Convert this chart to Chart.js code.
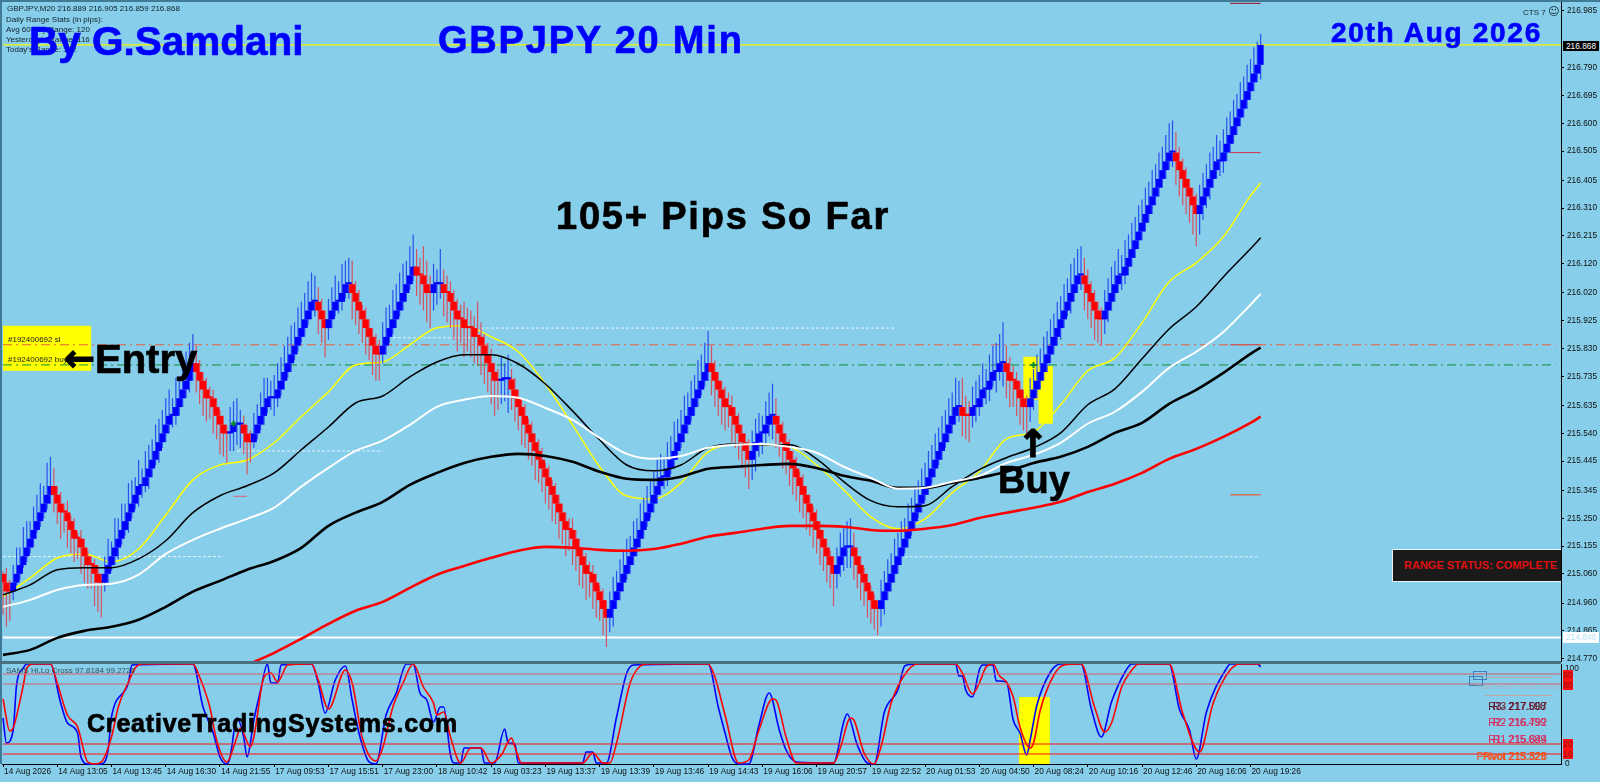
<!DOCTYPE html>
<html>
<head>
<meta charset="utf-8">
<title>GBPJPY 20 Min</title>
<script src="https://cdn.jsdelivr.net/npm/chart.js@4"></script>
<style>
  html, body { margin: 0; padding: 0; background: #87ceeb; overflow: hidden; }
  #stage { position: relative; width: 1600px; height: 782px; background: #87ceeb; overflow: hidden; }
  canvas { position: absolute; left: 0; }
  #priceChart { top: 0; }
  #stochChart { top: 664px; }
  .t { position: absolute; white-space: nowrap; line-height: 1; font-family: "Liberation Sans", Arial, sans-serif; }
  .big { font-weight: bold; -webkit-text-stroke: 0.7px currentColor; }
  .blue { color: #0000ff; }
  .small { font-size: 8px; color: #10202a; }
  .pivot { font-size: 10.5px; }
  .tag { position: absolute; left: 1563px; width: 10px; height: 10px; background: #ff1010; color: #8a0f10; font: 8.5px "Liberation Sans", sans-serif; line-height: 10px; text-align: center; }
  .edge { position: absolute; background: #3f7a96; }
</style>
</head>
<body>
<div id="stage">
  <canvas id="priceChart" width="1600" height="664"></canvas>
  <canvas id="stochChart" width="1600" height="118"></canvas>

  <div class="edge" style="left:0;top:0;width:1600px;height:2px"></div>
  <div class="edge" style="left:0;top:0;width:2px;height:764px"></div>
  <div class="edge" style="left:0;top:661px;width:1561px;height:3px;background:#4b6f82"></div>

  <div class="t small" style="left:7px;top:5px">GBPJPY,M20 216.889 216.905 216.859 216.868</div>
  <div class="t small" style="left:6px;top:16px">Daily Range Stats (in pips):</div>
  <div class="t small" style="left:6px;top:26px">Avg 60-day Range: 120</div>
  <div class="t small" style="left:6px;top:36px">Yesterday's Range: 116</div>
  <div class="t small" style="left:6px;top:46px">Today's Range: 172</div>

  <div class="t big blue" style="left:29px;top:21px;font-size:40.5px">By G.Samdani</div>
  <div class="t big blue" style="left:438px;top:21px;font-size:38px;letter-spacing:1.8px">GBPJPY 20 Min</div>
  <div class="t big blue" style="left:1331px;top:19px;font-size:28px;letter-spacing:1.7px">20th Aug 2026</div>
  <div class="t big" style="left:556px;top:197px;font-size:38px;letter-spacing:1.8px;color:#000">105+ Pips So Far</div>

  <div class="t small" style="left:8px;top:336px;color:#222">#192400692 sl</div>
  <div class="t small" style="left:8px;top:356px;color:#222">#192400692 buy</div>
  <div class="t big" style="left:64px;top:340px;font-family:'DejaVu Sans';font-size:37px;color:#000;-webkit-text-stroke:1.2px #000">←</div>
  <div class="t big" style="left:95px;top:339px;font-size:40px;color:#000">Entry</div>
  <div class="t big" style="left:1017px;top:425px;font-family:'DejaVu Sans';font-size:38px;color:#000;-webkit-text-stroke:1.2px #000">↑</div>
  <div class="t big" style="left:998px;top:461px;font-size:38px;color:#000">Buy</div>
  <div class="t big" style="left:87px;top:711px;font-size:25px;letter-spacing:0.8px;color:#000">CreativeTradingSystems.com</div>
  <div class="t small" style="left:6px;top:667px;color:#33505f">SAMS Hi,Lo Cross 97.8184 99.2726</div>

  <div class="t small" style="left:1523px;top:6px">CTS 7 <span style="font-size:11px;font-family:'DejaVu Sans'">☺</span></div>
  <div class="t" style="left:1563px;top:41px;width:36px;height:10px;background:#000;color:#fff;font-size:8.3px;line-height:10px;text-align:center">216.868</div>
  <div class="t" style="left:1563px;top:632px;width:36px;height:11px;background:#fff;color:#b7e4f5;font-size:8.3px;line-height:11px;text-align:center">214.840</div>

  <div class="t" style="left:1392px;top:549px;width:168px;height:31px;background:#1a1a1a;border:1px solid #e8f4f8;border-right:none;color:#e01010;font-size:11px;font-weight:bold;line-height:31px;text-indent:11px">RANGE STATUS: COMPLETE</div>

  <div style="position:absolute;left:1473px;top:671px;width:12px;height:7px;border:1.5px solid #3f7fb5"></div>
  <div style="position:absolute;left:1469px;top:676px;width:12px;height:8px;border:1.5px solid #3f7fb5"></div>
  <div style="position:absolute;left:1485px;top:677px;width:67px;height:1px;background:#b9a7a0"></div>
  <div style="position:absolute;left:1485px;top:695px;width:67px;height:1px;background:#c2a79a"></div>
  <div class="t" style="left:1477px;top:683px;font-size:7.5px;color:#a8b4bc">Daily Pivot Points Levels</div>

  <div class="t pivot" style="right:53px;top:701px;color:#7a1020">R3 217.007</div>
  <div class="t pivot" style="right:54px;top:701px;color:#5a0f25">R3- 217.598</div>
  <div class="t pivot" style="right:53px;top:717px;color:#d92a5c">R2 216.792</div>
  <div class="t pivot" style="right:54px;top:717px;color:#d92a5c">R2- 216.499</div>
  <div class="t pivot" style="right:53px;top:734px;color:#d92a5c">R1 215.844</div>
  <div class="t pivot" style="right:54px;top:734px;color:#d92a5c">R1- 215.689</div>
  <div class="t pivot" style="right:53px;top:751px;color:#ff4a10">Pivot 215.528</div>
  <div class="t pivot" style="right:54px;top:751px;color:#ff4a10">PNvot 215.329</div>

  <div class="t" style="left:1565px;top:664px;font-size:8.3px;color:#111">100</div>
  <div class="tag" style="top:670px">90</div>
  <div class="tag" style="top:680px">80</div>
  <div class="tag" style="top:739px">20</div>
  <div class="tag" style="top:749px">10</div>
  <div class="t" style="left:1565px;top:759px;font-size:8.3px;color:#111">0</div>
</div>

<script>
// Bar data. Bars are numbered from the left edge.
const firstOpen = 215.06;

const closes = [
  215.03,215.00,215.00,
  215.03,215.06,215.09,215.12,215.15,215.18,215.21,215.24,215.27,215.30,215.33,215.36,
  215.33,215.30,215.27,215.27,215.24,215.21,215.18,215.18,215.15,215.12,215.09,215.09,215.06,215.03,215.03,
  215.06,215.09,215.12,215.15,215.18,215.21,215.24,215.27,215.30,215.33,215.36,215.36,215.39,215.42,215.45,215.48,215.51,215.54,215.57,215.60,215.60,215.63,215.66,215.69,215.72,215.75,215.78,
  215.75,215.72,215.69,215.66,215.66,215.63,215.60,215.57,215.54,215.54,
  215.545,215.57,215.57,215.57,
  215.54,215.51,
  215.51,215.54,215.57,215.60,215.63,215.66,215.66,215.66,215.69,215.72,215.75,215.78,215.81,215.84,215.87,215.90,215.93,215.96,215.99,215.99,
  215.96,215.93,215.90,
  215.93,215.96,215.99,215.99,216.02,216.05,216.05,
  216.02,215.99,215.96,215.93,215.90,215.87,215.84,215.81,215.81,
  215.84,215.87,215.90,215.93,215.96,215.99,216.02,216.05,216.08,216.11,
  216.08,216.08,216.05,216.02,216.02,
  216.05,216.05,216.05,
  216.02,216.02,215.99,215.96,215.93,215.93,215.90,215.90,215.90,215.87,215.87,215.84,215.81,215.78,215.75,215.72,215.72,
  215.725,215.725,215.725,
  215.69,215.66,215.63,215.60,215.57,215.54,215.51,215.48,215.45,215.42,215.39,215.36,215.33,215.30,215.27,215.24,215.21,215.21,215.18,215.15,215.12,215.09,215.06,
  215.06,215.03,215.00,214.97,214.94,214.91,
  214.94,214.97,215.00,215.03,215.06,215.09,215.12,215.15,215.18,215.21,215.24,215.27,215.30,215.33,215.36,215.39,215.39,215.42,215.45,215.48,215.51,215.54,215.57,215.60,215.63,215.66,215.69,215.72,215.75,215.78,
  215.75,215.72,215.69,215.66,215.63,215.63,215.60,215.57,215.54,215.51,215.48,215.45,
  215.48,215.51,215.54,215.54,215.57,215.60,215.60,
  215.57,215.54,215.51,215.48,215.45,215.42,215.39,215.36,215.33,215.30,215.27,215.24,215.21,215.18,215.15,215.12,215.09,215.06,
  215.09,215.12,215.15,215.15,215.15,
  215.12,215.09,215.06,215.03,215.00,214.97,214.94,214.94,
  214.97,215.00,215.03,215.06,215.09,215.12,215.15,215.18,215.21,215.24,215.27,215.30,215.33,215.36,215.39,215.42,215.45,215.48,215.51,215.54,215.57,215.60,215.63,215.63,
  215.60,215.60,215.60,
  215.63,215.63,215.66,215.69,215.69,215.72,215.75,215.75,215.78,215.78,
  215.75,215.72,215.72,215.69,215.66,215.63,215.63,
  215.66,215.69,215.72,215.75,215.78,215.81,215.84,215.87,215.90,215.93,215.96,215.99,216.02,216.05,216.08,216.08,
  216.05,216.02,215.99,215.96,215.93,215.93,
  215.96,215.99,216.02,216.05,216.08,216.08,216.11,216.14,216.17,216.20,216.23,216.26,216.29,216.32,216.35,216.38,216.41,216.44,216.47,216.50,216.50,
  216.47,216.44,216.41,216.38,216.35,216.32,216.29,
  216.32,216.35,216.38,216.41,216.44,216.47,216.47,216.50,216.53,216.56,216.59,216.62,216.65,216.68,216.71,216.74,216.77,216.80,216.868
];

const highs = [
  215.07,215.08,215.04,
  215.09,215.15,215.15,215.22,215.24,215.24,215.29,215.33,215.37,215.36,215.44,215.46,
  215.42,215.36,215.34,215.30,215.31,215.26,215.25,215.20,215.21,215.18,215.14,215.12,215.11,215.09,215.06,
  215.12,215.18,215.17,215.25,215.25,215.30,215.30,215.37,215.38,215.39,215.45,215.42,215.48,215.50,215.52,215.57,215.59,215.62,215.66,215.69,215.66,215.73,215.73,215.78,215.82,215.85,215.88,
  215.84,215.79,215.75,215.73,215.70,215.69,215.66,215.62,215.60,215.57,
  215.63,215.65,215.66,215.62,
  215.60,215.57,
  215.55,215.61,215.64,215.68,215.73,215.73,215.72,215.74,215.78,215.80,215.84,215.87,215.91,215.92,215.97,215.99,216.02,216.06,216.09,216.08,
  216.04,216.00,215.96,
  216.00,216.04,216.08,216.06,216.12,216.13,216.14,
  216.13,216.06,216.03,215.98,215.97,215.93,215.90,215.88,215.86,
  215.92,215.97,215.98,216.03,216.05,216.09,216.12,216.13,216.18,216.22,
  216.17,216.14,216.18,216.13,216.08,
  216.12,216.10,216.17,
  216.10,216.08,216.06,216.03,216.00,215.98,215.99,215.97,215.96,215.94,215.99,215.92,215.88,215.85,215.83,215.78,215.76,
  215.80,215.78,215.81,
  215.76,215.73,215.69,215.66,215.64,215.59,215.58,215.54,215.52,215.49,215.44,215.43,215.38,215.37,215.33,215.30,215.27,215.25,215.25,215.21,215.18,215.15,215.13,
  215.10,215.09,215.06,215.02,215.01,214.97,
  215.00,215.05,215.07,215.11,215.14,215.18,215.19,215.24,215.25,215.30,215.32,215.36,215.38,215.41,215.45,215.47,215.46,215.51,215.53,215.58,215.59,215.62,215.67,215.68,215.72,215.74,215.79,215.81,215.85,215.89,
  215.84,215.79,215.75,215.72,215.70,215.68,215.67,215.63,215.61,215.57,215.54,215.52,
  215.55,215.59,215.61,215.60,215.65,215.68,215.71,
  215.66,215.60,215.58,215.54,215.52,215.48,215.46,215.41,215.40,215.36,215.33,215.29,215.28,215.24,215.21,215.18,215.14,215.12,
  215.15,215.20,215.22,215.24,215.25,
  215.20,215.15,215.12,215.08,215.06,215.02,214.99,214.97,
  215.04,215.07,215.11,215.13,215.18,215.20,215.24,215.25,215.30,215.32,215.36,215.38,215.42,215.44,215.48,215.50,215.54,215.56,215.60,215.62,215.66,215.68,215.73,215.72,
  215.73,215.67,215.65,
  215.70,215.72,215.74,215.78,215.76,215.81,215.84,215.85,215.88,215.92,
  215.84,215.80,215.77,215.75,215.72,215.69,215.67,
  215.73,215.76,215.81,215.83,215.87,215.89,215.93,215.95,215.99,216.01,216.05,216.07,216.12,216.14,216.17,216.18,
  216.14,216.10,216.06,216.03,215.99,215.97,
  216.03,216.07,216.11,216.13,216.17,216.15,216.20,216.22,216.26,216.28,216.32,216.34,216.38,216.40,216.44,216.46,216.50,216.52,216.56,216.60,216.61,
  216.57,216.52,216.48,216.45,216.41,216.38,216.36,
  216.39,216.43,216.46,216.50,216.52,216.56,216.54,216.58,216.62,216.64,216.68,216.70,216.74,216.76,216.80,216.82,216.86,216.88,216.905
];

const lows = [
  214.92,214.88,214.90,
  214.97,215.02,215.04,215.08,215.10,215.13,215.15,215.20,215.22,215.25,215.28,215.30,
  215.27,215.23,215.18,215.20,215.15,215.13,215.10,215.11,215.06,215.03,215.01,215.01,214.95,214.93,214.91,
  215.00,215.02,215.07,215.09,215.11,215.16,215.19,215.20,215.25,215.28,215.29,215.32,215.34,215.35,215.39,215.43,215.44,215.49,215.51,215.54,215.56,215.57,215.60,215.63,215.66,215.68,215.72,
  215.68,215.64,215.60,215.58,215.59,215.54,215.52,215.47,215.46,215.44,
  215.48,215.48,215.50,215.49,
  215.47,215.40,
  215.44,215.49,215.52,215.55,215.57,215.61,215.62,215.60,215.63,215.67,215.69,215.73,215.75,215.79,215.82,215.85,215.87,215.91,215.93,215.94,
  215.88,215.85,215.80,
  215.86,215.90,215.94,215.95,215.96,216.00,216.00,
  215.93,215.91,215.88,215.85,215.81,215.79,215.74,215.72,215.72,
  215.78,215.81,215.85,215.88,215.90,215.94,215.96,215.99,216.03,216.06,
  216.01,215.98,215.96,215.92,215.90,
  215.96,215.98,216.00,
  215.94,215.92,215.90,215.86,215.82,215.85,215.80,215.82,215.80,215.78,215.77,215.74,215.71,215.68,215.64,215.60,215.62,
  215.64,215.65,215.61,
  215.62,215.58,215.55,215.50,215.49,215.45,215.43,215.38,215.37,215.34,215.30,215.28,215.24,215.23,215.18,215.16,215.12,215.14,215.09,215.07,215.02,215.01,214.97,
  214.98,214.94,214.91,214.90,214.85,214.81,
  214.86,214.88,214.94,214.97,215.00,215.04,215.06,215.09,215.12,215.15,215.18,215.22,215.25,215.27,215.30,215.33,215.35,215.36,215.40,215.42,215.45,215.49,215.51,215.54,215.58,215.60,215.63,215.67,215.70,215.72,
  215.67,215.63,215.60,215.57,215.55,215.56,215.51,215.49,215.45,215.42,215.39,215.35,
  215.38,215.41,215.46,215.47,215.50,215.53,215.52,
  215.49,215.46,215.42,215.40,215.36,215.33,215.31,215.27,215.25,215.21,215.19,215.15,215.13,215.09,215.07,215.03,215.01,214.95,
  215.01,215.05,215.07,215.08,215.08,
  215.04,215.01,214.97,214.95,214.91,214.89,214.87,214.85,
  214.88,214.92,214.97,215.00,215.03,215.06,215.09,215.13,215.15,215.19,215.21,215.25,215.27,215.31,215.33,215.37,215.39,215.43,215.45,215.49,215.51,215.54,215.57,215.58,
  215.53,215.52,215.51,
  215.56,215.58,215.60,215.63,215.64,215.65,215.70,215.68,215.72,215.70,
  215.66,215.63,215.63,215.60,215.57,215.55,215.54,
  215.58,215.62,215.66,215.69,215.72,215.75,215.78,215.81,215.84,215.86,215.90,215.94,215.95,215.99,216.02,216.03,
  215.96,215.93,215.90,215.86,215.85,215.84,
  215.88,215.92,215.96,215.99,216.02,216.03,216.05,216.08,216.11,216.14,216.17,216.20,216.23,216.26,216.29,216.32,216.35,216.38,216.41,216.44,216.45,
  216.39,216.35,216.32,216.29,216.26,216.22,216.18,
  216.22,216.27,216.31,216.34,216.38,216.41,216.42,216.43,216.47,216.50,216.53,216.56,216.59,216.62,216.65,216.68,216.71,216.74,216.75
];

// Moving averages, read every 8 bars
const avgBars = [0,8,16,24,32,40,48,56,64,72,80,88,96,104,112,120,128,136,144,152,160,168,176,184,192,200,208,216,224,232,240,248,256,264,272,280,288,296,304,312,320,328,336,344,352,360,368,371];

const yellowAvg = [214.981,215.046,215.114,215.128,215.101,215.145,215.261,215.381,215.432,215.449,215.508,215.597,215.682,215.774,215.784,215.843,215.901,215.908,215.870,215.819,215.709,215.569,215.426,215.326,215.316,215.371,215.477,215.501,215.501,215.494,215.432,215.347,215.255,215.214,215.248,215.337,215.409,215.521,215.545,215.638,215.754,215.798,215.918,216.058,216.123,216.212,216.352,216.396];

const blackAvg = [214.988,215.022,215.074,215.081,215.081,215.111,215.173,215.269,215.327,215.361,215.405,215.484,215.562,215.644,215.668,215.733,215.784,215.809,215.809,215.778,215.709,215.617,215.518,215.432,215.412,215.432,215.491,215.504,215.501,215.501,215.453,215.375,215.310,215.289,215.293,215.358,215.416,215.457,215.491,215.542,215.638,215.692,215.795,215.897,215.973,216.075,216.171,216.209];

const whiteAvg = [214.947,214.971,215.005,215.022,215.026,215.057,215.128,215.176,215.214,215.248,215.286,215.358,215.422,215.480,215.515,215.569,215.631,215.655,215.668,215.662,215.627,215.586,215.525,215.470,215.453,215.463,215.491,215.501,215.504,215.494,215.474,215.426,215.388,215.351,215.354,215.375,215.395,215.439,215.467,215.508,215.573,215.614,215.682,215.764,215.819,215.887,215.980,216.017];

const thickBlackAvg = [214.783,214.800,214.841,214.865,214.879,214.903,214.947,214.999,215.036,215.074,215.104,215.149,215.224,215.269,215.306,215.364,215.405,215.439,215.460,215.470,215.463,215.443,215.409,215.385,215.381,215.392,215.419,215.426,215.432,215.436,215.422,215.395,215.378,215.354,215.354,215.371,215.388,215.409,215.439,215.460,215.494,215.542,215.576,215.641,215.689,215.747,215.812,215.833];

const redAvg = [null,null,null,null,null,null,null,null,null,214.749,214.790,214.838,214.889,214.934,214.964,215.012,215.057,215.087,215.115,215.139,215.152,215.149,215.142,215.139,215.145,215.163,215.187,215.200,215.214,215.224,215.224,215.221,215.210,215.207,215.214,215.227,215.251,215.269,215.286,215.306,215.340,215.368,215.405,215.453,215.487,215.528,215.576,215.597];

// Stochastic panel, read at its turning points
const stochBars = [0,1,3,4,6,7,14,17,19,22,23,25,29,31,32,37,38,56,59,62,64,66,67,69,71,72,74,76,78,79,81,82,91,93,95,98,101,103,105,108,110,113,116,119,121,123,125,127,129,130,132,133,135,136,141,142,145,148,149,151,152,171,172,174,175,178,181,184,186,208,211,213,215,217,220,223,226,229,231,234,245,248,249,252,255,257,260,264,266,269,281,282,283,284,286,288,289,292,293,294,296,298,300,302,303,305,309,312,318,321,324,327,331,333,344,347,350,352,355,361,362,370,371];
const stochMain = [46,21,34,79,96,100,100,61,41,31,7,0,0,14,47,81,99,100,57,31,7,0,7,46,27,7,44,74,100,81,81,99,100,81,51,84,98,64,31,2,0,49,71,100,100,71,64,42,57,57,9,1,1,16,16,1,1,35,21,20,1,1,12,12,1,1,47,91,99,100,57,31,7,0,0,39,71,34,14,2,1,42,50,19,1,0,52,74,98,100,100,88,88,74,67,94,99,99,83,83,82,44,31,9,24,59,92,100,100,56,27,62,92,100,100,55,34,5,52,96,100,100,97];

const signalBars = [0,2,3,6,7,9,14,16,19,22,25,27,29,32,34,37,39,41,56,58,61,63,66,67,69,70,73,74,77,79,81,84,91,93,96,101,103,106,110,112,115,118,121,124,127,128,130,132,135,138,141,144,147,150,151,153,171,174,177,179,181,185,188,190,208,210,213,217,220,223,227,228,231,234,245,247,250,251,254,257,259,262,267,270,281,283,286,288,290,292,294,296,298,300,303,304,306,310,313,318,322,325,327,330,333,335,344,348,353,357,362,365,371];
const stochSignal = [65,33,36,79,96,100,100,81,49,37,2,0,2,27,57,82,96,100,100,87,57,24,2,7,27,36,17,27,87,91,82,99,100,84,55,94,81,26,3,16,57,81,100,77,61,49,52,27,1,16,16,1,9,26,17,1,1,11,1,1,21,81,98,100,100,87,49,1,4,34,65,64,27,1,1,16,46,44,11,0,17,61,94,100,100,91,70,81,97,100,88,82,67,37,16,21,54,89,99,100,57,32,41,77,94,100,100,51,12,61,94,100,100];

const stochLevels = [90, 80, 20, 10];

// Axis labels
const priceTicks = [216.985,216.790,216.695,216.600,216.505,216.405,216.310,216.215,216.120,216.020,215.925,215.830,215.735,215.635,215.540,215.445,215.345,215.250,215.155,215.060,214.960,214.865,214.770];
const timeTickBars = [0,16,32,48,64,80,96,112,128,144,160,176,192,208,224,240,256,272,288,304,320,336,352,368];
const timeLabels = ['14 Aug 2026','14 Aug 13:05','14 Aug 13:45','14 Aug 16:30','14 Aug 21:55','17 Aug 09:53','17 Aug 15:51','17 Aug 23:00','18 Aug 10:42','19 Aug 03:23','19 Aug 13:37','19 Aug 13:39','19 Aug 13:46','19 Aug 14:43','19 Aug 16:06','19 Aug 20:57','19 Aug 22:52','20 Aug 01:53','20 Aug 04:50','20 Aug 08:24','20 Aug 10:16','20 Aug 12:46','20 Aug 16:06','20 Aug 19:26'];

// Chart objects: horizontal levels, entry marks, highlight boxes
const currentPrice = 216.868;
const whiteLevel = 214.842;
const stopLevel = 215.843;
const buyLevel = 215.774;
const entryBars = [68, 304];
const entryPrices = [215.573, 215.774];

// [from bar, to bar, price]
const dottedLevels = [[0, 65, 215.119], [69, 112, 215.480], [115, 138, 215.867], [141, 263, 215.900], [266, 370, 215.118]];
const pivotDashes = [[362, 371, 217.010, '#a01020'], [362, 371, 216.500, '#d9304a'], [362, 371, 215.843, '#c83040'], [362, 371, 215.330, '#ff4010'], [68, 72, 215.325, '#d9607a']];

// [from bar, to bar, price or value top, bottom]
const priceBoxes = [[0, 26, 215.908, 215.754], [301, 305.5, 215.802, 215.655], [305.5, 309.7, 215.770, 215.573]];
const stochBoxes = [[299.7, 308.8, 67, 0]];

// x position of bar i is left edge + 3.39px per bar, same in both panels
const xMin = -0.3, xMax = 459.6;

let opens = closes.map((c, i) => (i === 0 ? firstOpen : closes[i - 1]));
let upFlags = [];
closes.forEach((c, i) => {
    if (c > opens[i]) upFlags.push(true);
    else if (c < opens[i]) upFlags.push(false);
    else upFlags.push(i > 0 ? upFlags[i - 1] : false);
});

function pairPoints(bars, values) {
    return bars.map((b, i) => ({ x: b, y: values[i] }));
}

function avgLine(values, color, width) {
    return { type: 'line', data: pairPoints(avgBars, values), borderColor: color, borderWidth: width, pointRadius: 0, cubicInterpolationMode: 'monotone' };
}

function levelLine(fromBar, toBar, value, color, width, dash) {
    return {
        type: 'line',
        data: [{ x: fromBar, y: value }, { x: toBar, y: value }],
        borderColor: color,
        borderWidth: width,
        borderDash: dash || [],
        pointRadius: 0
    };
}

// Pins the plot area to fixed pixels and draws the highlight rectangles under the marks
const panelPlugin = {
    id: 'panel',
    afterLayout(chart, args, opts) {
        const { chartArea, scales } = chart;
        chartArea.left = 2;
        chartArea.right = 1561;
        chartArea.width = 1559;
        chartArea.top = opts.top;
        chartArea.bottom = opts.bottom;
        chartArea.height = opts.bottom - opts.top;
        scales.x.left = 2;
        scales.x.right = 1561;
        scales.x.width = 1559;
        scales.x.configure();
        scales.y.top = opts.top;
        scales.y.bottom = opts.bottom;
        scales.y.height = opts.bottom - opts.top;
        scales.y.configure();
    },
    beforeDatasetsDraw(chart, args, opts) {
        const { ctx, scales } = chart;
        ctx.save();
        ctx.fillStyle = '#ffff00';
        opts.list.forEach(b => {
            const x0 = scales.x.getPixelForValue(b[0]);
            const x1 = scales.x.getPixelForValue(b[1]);
            const y0 = scales.y.getPixelForValue(b[2]);
            const y1 = scales.y.getPixelForValue(b[3]);
            ctx.fillRect(x0, y0, x1 - x0, y1 - y0);
        });
        ctx.restore();
    }
};

Chart.defaults.animation = false;
Chart.defaults.font.family = "'Liberation Sans', sans-serif";

const sharedPlugins = { legend: { display: false }, tooltip: { enabled: false } };

// Price panel
new Chart(document.getElementById('priceChart'), {
    type: 'bar',
    data: {
        datasets: [
            avgLine(whiteAvg, '#ffffff', 2),
            avgLine(blackAvg, '#000000', 1.5),
            avgLine(thickBlackAvg, '#000000', 2.6),
            avgLine(redAvg, '#ff0000', 2.6),
            {
                type: 'line',
                data: pairPoints(entryBars, entryPrices),
                showLine: false,
                pointStyle: 'cross',
                pointRadius: 3,
                pointBorderWidth: 2,
                pointBorderColor: '#0a8a2a'
            },
            {
                data: closes.map((c, i) => ({ x: i, y: [opens[i], c] })),
                backgroundColor: upFlags.map(u => (u ? '#0000ff' : '#ff0000')),
                barThickness: 6,
                minBarLength: 2,
                grouped: false,
                inflateAmount: 0
            },
            {
                data: closes.map((c, i) => ({ x: i, y: [lows[i], highs[i]] })),
                backgroundColor: upFlags.map(u => (u ? '#2a50f0' : '#d9505f')),
                barThickness: 1.2,
                grouped: false,
                inflateAmount: 0
            },
            avgLine(yellowAvg, '#ffff00', 1.5),
            levelLine(0, xMax, currentPrice, '#f4f400', 1.3),
            levelLine(0, xMax, whiteLevel, '#ffffff', 2),
            levelLine(0, 458, stopLevel, '#e8603c', 1, [9, 4, 2, 4]),
            levelLine(0, 458, buyLevel, '#0f8f2f', 1, [9, 4, 2, 4]),
            ...dottedLevels.map(d => levelLine(d[0], d[1], d[2], '#e6f4fa', 1, [3, 2])),
            ...pivotDashes.map(d => levelLine(d[0], d[1], d[2], d[3], 1))
        ]
    },
    options: {
        responsive: false,
        devicePixelRatio: 1,
        layout: { padding: { left: 2, right: 0, top: 2, bottom: 3 } },
        plugins: { ...sharedPlugins, panel: { list: priceBoxes, top: 2, bottom: 661 } },
        scales: {
            x: { type: 'linear', display: false, min: xMin, max: xMax, offset: false },
            y: {
                position: 'right',
                min: 214.762,
                max: 217.0147,
                border: { color: '#000000' },
                grid: { drawOnChartArea: false, color: '#000000', tickLength: 3 },
                ticks: {
                    color: '#101010',
                    padding: 3,
                    autoSkip: false,
                    font: { size: 8.3 },
                    callback: v => v.toFixed(3)
                },
                afterBuildTicks: s => { s.ticks = priceTicks.map(v => ({ value: v })); },
                afterFit: s => { s.width = 39; }
            }
        }
    },
    plugins: [panelPlugin]
});

// Stochastic panel
new Chart(document.getElementById('stochChart'), {
    type: 'line',
    data: {
        datasets: [
            ...stochLevels.map(v => levelLine(0, xMax, v, v > 50 ? '#d95a68' : '#ff1010', 1)),
            {
                data: pairPoints(signalBars, stochSignal),
                borderColor: '#ff0000',
                borderWidth: 1.6,
                pointRadius: 0,
                cubicInterpolationMode: 'monotone',
                clip: 3
            },
            {
                data: pairPoints(stochBars, stochMain),
                borderColor: '#0000ff',
                borderWidth: 1.6,
                pointRadius: 0,
                cubicInterpolationMode: 'monotone',
                clip: 3
            }
        ]
    },
    options: {
        responsive: false,
        devicePixelRatio: 1,
        layout: { padding: { left: 2, right: 0, top: 0, bottom: 0 } },
        plugins: { ...sharedPlugins, panel: { list: stochBoxes, top: 0, bottom: 100 } },
        scales: {
            x: {
                type: 'linear',
                min: xMin,
                max: xMax,
                border: { color: '#000000' },
                grid: { drawOnChartArea: false, color: '#000000', tickLength: 3 },
                ticks: {
                    color: '#101010',
                    padding: 0,
                    align: 'start',
                    autoSkip: false,
                    maxRotation: 0,
                    labelOffset: 1,
                    font: { size: 8.3 },
                    callback: v => timeLabels[timeTickBars.indexOf(v)]
                },
                afterBuildTicks: s => { s.ticks = timeTickBars.map(v => ({ value: v })); },
                afterFit: s => { s.height = 18; }
            },
            y: {
                position: 'right',
                min: 0,
                max: 100,
                border: { color: '#000000' },
                grid: { drawOnChartArea: false, drawTicks: false },
                ticks: { display: false },
                afterFit: s => { s.width = 39; }
            }
        }
    },
    plugins: [panelPlugin]
});
</script>
</body>
</html>
